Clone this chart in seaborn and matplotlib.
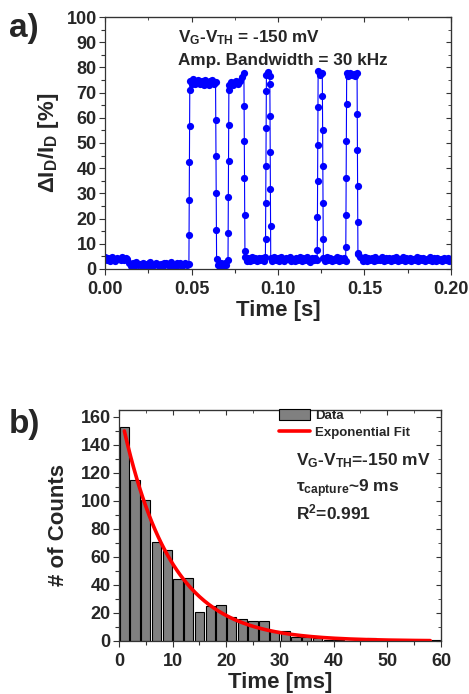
import numpy as np
import pandas as pd
import matplotlib
matplotlib.use("Agg")
import matplotlib.pyplot as plt
from matplotlib.ticker import MultipleLocator
import seaborn as sns

# ---- panel a: RTN trace (time in s, dI/I in %) ----
# plateaus: (start, end) and the values read along each one
plateau_bounds = [
    (0.0000, 0.0130), (0.0140, 0.0485), (0.0491, 0.0639), (0.0645, 0.0711),
    (0.0717, 0.0803), (0.0809, 0.0927), (0.0933, 0.0952), (0.0958, 0.1226),
    (0.1232, 0.1256), (0.1262, 0.1391), (0.1397, 0.1457), (0.1463, 0.2000),
]
plateau_vals = [
    [4.6, 3.4, 4.3, 3.2, 4.8, 3.9, 3.3, 4.5, 4.1, 3.5, 4.7, 3.6, 4.2, 3.8],
    [2.5, 1.2, 2.2, 1.0, 2.6, 1.5, 2.0, 1.1, 2.4, 1.8, 1.3, 2.3, 2.6, 1.1, 1.6,
     2.4, 2.1, 1.2, 1.9, 1.0, 2.3, 2.5, 1.4, 1.3, 2.6, 1.7, 1.1, 2.2, 1.5, 2.4,
     1.2, 1.9, 2.5, 1.4, 2.0],
    [74.8, 73.6, 75.2, 73.3, 74.5, 75.0, 73.5, 74.6, 73.2, 74.9, 74.2, 73.1,
     74.7, 75.1, 73.4, 74.4],
    [3.8, 1.5, 0.9, 2.3, 1.2, 2.5, 1.4, 3.4],
    [73.2, 74.3, 72.9, 74.1, 74.5, 73.3, 74.6, 76.0, 77.6],
    [4.9, 3.3, 4.4, 3.1, 4.6, 3.5, 4.2, 3.0, 4.5, 3.6, 4.3, 3.2, 4.7],
    [77.0, 78.1, 76.6],
    [4.4, 3.1, 4.6, 3.4, 4.2, 3.0, 4.7, 3.5, 3.2, 4.5, 3.8, 4.6, 3.3, 4.1, 3.0,
     4.4, 3.6, 4.8, 3.2, 4.3, 3.5, 4.6, 3.1, 2.9, 4.2, 3.4, 4.5, 3.7],
    [78.4, 77.1, 77.6],
    [4.5, 3.2, 4.6, 3.4, 4.3, 3.0, 4.1, 3.6, 4.7, 3.1, 4.4, 3.5, 4.2, 3.3],
    [77.6, 76.5, 77.9, 76.8, 77.3, 76.4, 77.7],
    [5.8, 4.9, 4.5, 3.2, 4.6, 3.1, 4.4, 3.6, 4.2, 3.0, 4.7, 3.4, 4.1, 3.5, 4.6,
     3.2, 4.3, 3.7, 4.5, 3.1, 4.2, 3.4, 4.8, 3.3, 4.0, 3.5, 4.6, 3.0, 4.3, 3.6,
     4.4, 3.2, 4.1, 3.5, 4.7, 3.1, 4.2, 3.6, 4.5, 3.3, 4.0, 3.4, 4.6, 3.2, 4.3,
     3.0, 4.4, 3.7, 4.1, 3.3, 4.5, 3.5, 4.2, 3.1, 4.0],
]
# samples caught mid-switch between plateau i and i+1
switch_vals = [
    [],
    [13.6, 27.5, 42.5, 56.9, 70.9],
    [59.0, 44.7, 30.2, 15.6],
    [14.3, 28.4, 43.0, 57.3, 70.9],
    [64.8, 50.7, 36.1, 21.6, 7.0],
    [11.9, 26.2, 40.7, 56.0, 70.5],
    [73.4, 60.8, 46.4, 31.7, 16.9],
    [7.7, 20.6, 34.8, 49.1, 64.2],
    [68.8, 55.3, 40.7, 26.2, 11.9],
    [8.6, 21.6, 36.1, 50.9, 65.5],
    [61.6, 47.1, 32.8, 18.5, 6.3],
]

# ---- panel b: capture time histogram ----
bin_centers = [1, 3, 5, 7, 9, 11, 13, 15, 17, 19, 21, 23, 25, 27, 29, 31, 33,
               35, 37, 39, 41, 43, 45, 47, 49, 51, 53, 55, 57, 59]
counts = [153, 115, 101, 71, 65, 44, 45, 21, 25, 26, 17, 16, 14, 14, 7, 7, 3,
          3, 2, 1, 1, 0, 1, 2, 0, 0, 0, 0, 0, 1]
tau_ms = 9.0
amp = 167.6

# build the trace
t, v = [], []
for i, ((t0, t1), vals) in enumerate(zip(plateau_bounds, plateau_vals)):
    t.extend(np.linspace(t0, t1, len(vals)))
    v.extend(vals)
    if i < len(switch_vals):
        sw = switch_vals[i]
        if sw:
            t_next = plateau_bounds[i + 1][0]
            t.extend(np.linspace(t1, t_next, len(sw) + 2)[1:-1])
            v.extend(sw)
trace = pd.DataFrame({"t": t, "v": v})
hist_df = pd.DataFrame({"tc": bin_centers, "n": counts})

sns.set_style("ticks")
plt.rcParams["font.family"] = ["Liberation Sans", "DejaVu Sans"]
plt.rcParams["font.weight"] = "bold"
plt.rcParams["mathtext.fontset"] = "custom"
plt.rcParams["mathtext.rm"] = "Liberation Sans:bold"
plt.rcParams["mathtext.it"] = "Liberation Sans:bold"
plt.rcParams["mathtext.bf"] = "Liberation Sans:bold"
plt.rcParams["mathtext.default"] = "rm"

fig = plt.figure(figsize=(4.69, 6.94), dpi=100)
ax1 = fig.add_axes([0.2239, 0.6124, 0.7377, 0.3631])
ax2 = fig.add_axes([0.2537, 0.0764, 0.6866, 0.3329])

sns.lineplot(data=trace, x="t", y="v", ax=ax1, sort=False, estimator=None,
             color="#0000ff", lw=0.8, marker="o", markersize=5.2,
             markeredgewidth=0, alpha=1)
ax1.set_xlim(0, 0.2)
ax1.set_ylim(0, 100)
ax1.xaxis.set_major_locator(MultipleLocator(0.05))
ax1.xaxis.set_minor_locator(MultipleLocator(0.025))
ax1.yaxis.set_major_locator(MultipleLocator(10))
ax1.yaxis.set_minor_locator(MultipleLocator(5))
ax1.xaxis.set_major_formatter(lambda x, p: f"{x:.2f}")
ax1.set_xlabel("Time [s]", fontsize=16, fontweight="bold", labelpad=1)
ax1.set_ylabel("ΔI$_D$/I$_D$ [%]", fontsize=16, fontweight="bold", labelpad=4)
ax1.text(0.21, 0.955, "V$_G$-V$_{TH}$ = -150 mV", transform=ax1.transAxes,
         fontsize=12.3, fontweight="bold", va="top")
ax1.text(0.21, 0.858, "Amp. Bandwidth = 30 kHz", transform=ax1.transAxes,
         fontsize=12.3, fontweight="bold", va="top")

sns.histplot(data=hist_df, x="tc", weights="n", binwidth=2, binrange=(0, 60),
             ax=ax2, shrink=0.87, color="#808080", edgecolor="black",
             linewidth=0.8, alpha=1)
fit_x = np.linspace(1, 58, 200)
fit = pd.DataFrame({"x": fit_x, "y": amp * np.exp(-fit_x / tau_ms)})
sns.lineplot(data=fit, x="x", y="y", ax=ax2, color="red", lw=2.6)
ax2.set_xlim(0, 60)
ax2.set_ylim(0, 165)
ax2.xaxis.set_major_locator(MultipleLocator(10))
ax2.xaxis.set_minor_locator(MultipleLocator(5))
ax2.yaxis.set_major_locator(MultipleLocator(20))
ax2.yaxis.set_minor_locator(MultipleLocator(10))
ax2.set_xlabel("Time [ms]", fontsize=16, fontweight="bold", labelpad=1)
ax2.set_ylabel("# of Counts", fontsize=16, fontweight="bold", labelpad=8)
ax2.legend(handles=[ax2.containers[0].patches[0], ax2.lines[0]],
           labels=["Data", "Exponential Fit"], loc="upper left",
           bbox_to_anchor=(0.49, 1.015), frameon=False,
           prop={"size": 9.5, "weight": "bold"}, handlelength=2.3,
           handleheight=0.9, handletextpad=0.4, borderaxespad=0.0,
           borderpad=0.2, labelspacing=0.3)
ax2.text(0.55, 0.82, "V$_G$-V$_{TH}$=-150 mV", transform=ax2.transAxes,
         fontsize=12.5, fontweight="bold", va="top")
ax2.text(0.55, 0.71, "τ$_{capture}$~9 ms", transform=ax2.transAxes,
         fontsize=12.5, fontweight="bold", va="top")
ax2.text(0.55, 0.60, "R$^2$=0.991", transform=ax2.transAxes,
         fontsize=12.5, fontweight="bold", va="top")

for ax in (ax1, ax2):
    for s in ax.spines.values():
        s.set_visible(True)
        s.set_linewidth(0.9)
        s.set_color("#333333")
    ax.tick_params(which="both", direction="out", top=False, right=False,
                   labelsize=13, width=0.8, color="#333333", pad=2)
    ax.tick_params(axis="x", which="both", pad=5)
    ax.tick_params(which="major", length=4)
    ax.tick_params(which="minor", length=3)
    sec_x = ax.secondary_xaxis("top")
    sec_y = ax.secondary_yaxis("right")
    sec_x.tick_params(which="both", direction="in", labeltop=False, color="#333333")
    sec_y.tick_params(which="both", direction="in", labelright=False, color="#333333")
    sec_x.set_xticks(ax.get_xticks(minor=True), minor=True)
    sec_y.set_yticks(ax.get_yticks(minor=True), minor=True)
    sec_x.set_xticks(ax.get_xticks())
    sec_y.set_yticks(ax.get_yticks())
    sec_x.set_xticklabels([])
    sec_y.set_yticklabels([])
    for lab in ax.get_xticklabels() + ax.get_yticklabels():
        lab.set_fontweight("bold")

fig.text(0.019, 0.9467, "a)", fontsize=24, fontweight="bold", va="baseline")
fig.text(0.019, 0.376, "b)", fontsize=24, fontweight="bold", va="baseline")

fig.savefig("out.png", dpi=100)
